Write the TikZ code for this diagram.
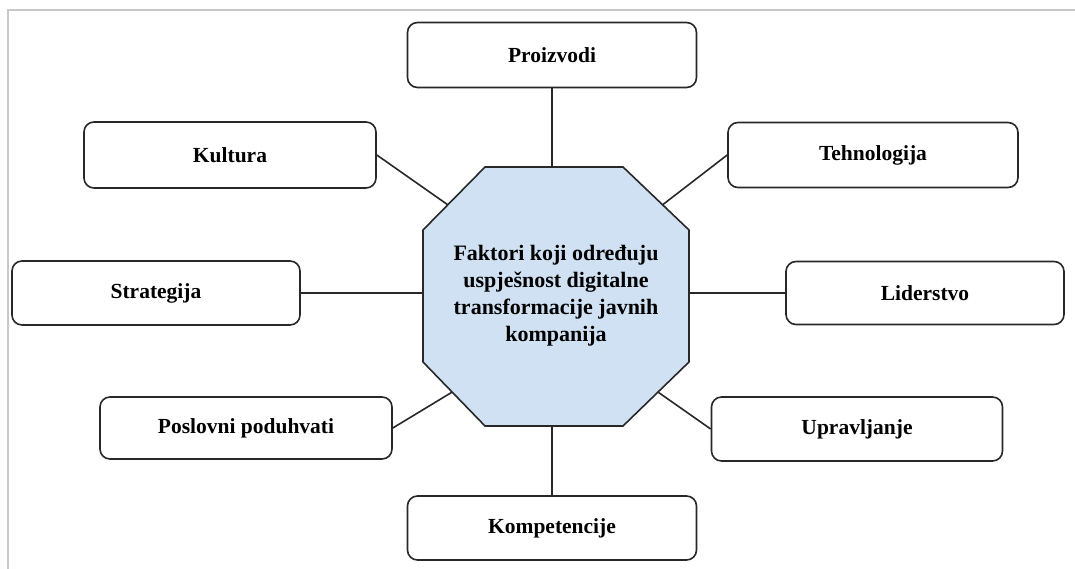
\documentclass[tikz,border=0pt]{standalone}
\usepackage{fontspec}
\setmainfont{Liberation Serif}
\usetikzlibrary{calc}
\definecolor{corefill}{RGB}{207,225,242}
\definecolor{edge}{RGB}{40,40,40}
\definecolor{framegray}{RGB}{200,200,200}
\tikzset{
  factor/.style={draw=edge, line width=1.6pt, rounded corners=10pt, fill=white,
    font=\fontsize{21.5}{26}\selectfont\bfseries, align=center, inner sep=0pt},
  link/.style={draw=edge, line width=1.6pt},
  core/.style={draw=edge, line width=1.6pt, fill=corefill, line join=miter},
  coretext/.style={font=\fontsize{22}{27}\selectfont\bfseries, align=center, inner sep=0pt}
}
\begin{document}
\begin{tikzpicture}[x=1pt,y=-1pt]
\useasboundingbox (0,0) rectangle (1075,569);
% page frame
\draw[framegray, line width=1.3pt] (8,569) -- (8,10) -- (1075,10);

% central octagon
\coordinate (o1) at (485,167);
\coordinate (o2) at (623,167);
\coordinate (o3) at (689,230);
\coordinate (o4) at (689,362);
\coordinate (o5) at (623,426);
\coordinate (o6) at (485,426);
\coordinate (o7) at (423,362);
\coordinate (o8) at (423,230);
\path[core] (o1) -- (o2) -- (o3) -- (o4) -- (o5) -- (o6) -- (o7) -- (o8) -- cycle;
\node[coretext] (core) at (556,296)
  {Faktori koji određuju\\uspješnost digitalne\\transformacije javnih\\kompanija};

% attachment points on the octagon
\coordinate (pTop)    at ($(o1)!0.5!(o2)$);
\coordinate (pBottom) at ($(o6)!0.5!(o5)$);
\coordinate (pLeft)   at ($(o8)!0.485!(o7)$);
\coordinate (pRight)  at ($(o3)!0.48!(o4)$);
\coordinate (pUL)     at ($(o1)!0.6!(o8)$);
\coordinate (pUR)     at ($(o2)!0.6!(o3)$);
\coordinate (pLL)     at ($(o7)!0.47!(o6)$);
\coordinate (pLR)     at ($(o4)!0.47!(o5)$);

% factor boxes
\node[factor, minimum width=289pt, minimum height=65pt] (proizvodi)    at (552,55)  {Proizvodi};
\node[factor, minimum width=292pt, minimum height=66pt] (kultura)      at (230,155) {Kultura};
\node[factor, minimum width=290pt, minimum height=65pt] (tehnologija)  at (873,155) {Tehnologija};
\node[factor, minimum width=288pt, minimum height=64pt] (strategija)   at (156,293) {Strategija};
\node[factor, minimum width=278pt, minimum height=63pt] (liderstvo)    at (925,293) {Liderstvo};
\node[factor, minimum width=292pt, minimum height=62pt] (poslovni)     at (246,428) {Poslovni poduhvati};
\node[factor, minimum width=291pt, minimum height=64pt] (upravljanje)  at (857,429) {Upravljanje};
\node[factor, minimum width=289pt, minimum height=64pt] (kompetencije) at (552,528) {Kompetencije};

% connectors
\draw[link] (proizvodi.south) -- (proizvodi.south |- pTop);
\draw[link] (kompetencije.north) -- (kompetencije.north |- pBottom);
\draw[link] (strategija.east) -- (strategija.east -| pLeft);
\draw[link] (liderstvo.west) -- (liderstvo.west -| pRight);
\draw[link] (kultura.east) -- (pUL);
\draw[link] (tehnologija.west) -- (pUR);
\draw[link] (poslovni.east) -- (pLL);
\draw[link] (upravljanje.west) -- (pLR);
\end{tikzpicture}
\end{document}
